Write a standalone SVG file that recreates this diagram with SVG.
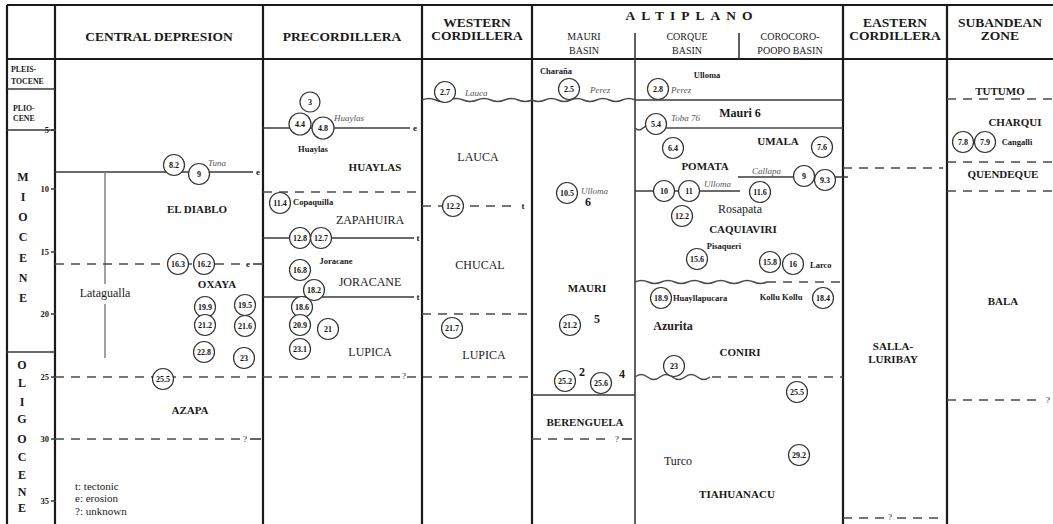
<svg xmlns="http://www.w3.org/2000/svg" width="1053" height="524" viewBox="0 0 1053 524">
<style>
.b{stroke:#1a1a1a;stroke-width:2.2;fill:none}
.l{stroke:#3a3a3a;stroke-width:1.6;fill:none}
.g{stroke:#8a8a8a;stroke-width:1.6;fill:none}
.d{stroke:#4a4a4a;stroke-width:1.6;stroke-dasharray:9 7;fill:none}
.w{stroke:#4a4a4a;stroke-width:1.5;fill:none}
.c circle{fill:#fff;stroke:#333;stroke-width:1.2}
text{font-family:"Liberation Serif","DejaVu Serif","Times New Roman",Times,serif;fill:#1a1a1a}
.c text{font-weight:bold;font-size:8px;text-anchor:middle;fill:#111}
.h{font-weight:bold;font-size:13.5px;text-anchor:middle}
.sh{font-size:10px;text-anchor:middle}
.ep{font-weight:bold;font-size:7.8px}
.el{font-weight:bold;font-size:12px;text-anchor:middle}
.tk{font-weight:bold;font-size:8.5px;text-anchor:end}
.u{font-weight:bold;font-size:11px;text-anchor:middle}
.r{font-size:12px;text-anchor:middle}
.i{font-style:italic;font-size:9px;fill:#555}
.s{font-weight:bold;font-size:8.5px}
.m{font-weight:bold;font-size:9px;text-anchor:middle}
.q{font-size:9px;text-anchor:middle}
.lg{font-size:11px}
</style>

<g id="frame">
<path class="b" d="M7 5H1053M7 59H1053M7 5V524M55 5V524M263 5V524M422 5V524M532 5V524M843 5V524M947 5V524"/>
<path class="l" d="M635 33V524M739 33V59M7 89H55M7 130H55M7 352H55"/>
</g>

<g id="headers">
<text class="h" x="159" y="41">CENTRAL DEPRESION</text>
<text class="h" x="342" y="41">PRECORDILLERA</text>
<text class="h" x="477" y="27">WESTERN</text>
<text class="h" x="477" y="40">CORDILLERA</text>
<text class="h" x="692" y="20" letter-spacing="6">ALTIPLANO</text>
<text class="sh" x="584" y="40">MAURI</text>
<text class="sh" x="584" y="54">BASIN</text>
<text class="sh" x="687" y="40">CORQUE</text>
<text class="sh" x="687" y="54">BASIN</text>
<text class="sh" x="790" y="40">COROCORO-</text>
<text class="sh" x="790" y="54">POOPO BASIN</text>
<text class="h" x="895" y="27">EASTERN</text>
<text class="h" x="895" y="40">CORDILLERA</text>
<text class="h" x="1000" y="27">SUBANDEAN</text>
<text class="h" x="1000" y="40">ZONE</text>
</g>

<g id="timescale">
<text class="ep" x="11" y="72">PLEIS-</text>
<text class="ep" x="11" y="84">TOCENE</text>
<text class="ep" x="13" y="111">PLIO-</text>
<text class="ep" x="13" y="121">CENE</text>
<g class="el">
<text x="23" y="181">M</text><text x="23" y="201">I</text><text x="23" y="221">O</text><text x="23" y="241">C</text><text x="23" y="262">E</text><text x="23" y="282">N</text><text x="23" y="302">E</text>
<text x="22" y="369">O</text><text x="22" y="387">L</text><text x="22" y="406">I</text><text x="22" y="423">G</text><text x="22" y="443">O</text><text x="22" y="461">C</text><text x="22" y="479">E</text><text x="22" y="496">N</text><text x="22" y="512">E</text>
</g>
<text class="tk" x="49" y="133">5</text>
<text class="tk" x="49" y="192">10</text>
<text class="tk" x="49" y="255">15</text>
<text class="tk" x="49" y="317">20</text>
<text class="tk" x="49" y="380">25</text>
<text class="tk" x="49" y="442">30</text>
<text class="tk" x="49" y="504">35</text>
<path class="l" d="M51 130H56M51 189H56M51 252H56M51 314H56M51 377H56M51 439H56M51 501H56"/>
</g>

<g id="connectors">
<path class="l" d="M55 172H253"/>
<path class="g" d="M105 172V284M105 304V358"/>
<path class="d" d="M55 264H242"/><path class="l" d="M253 264H263"/>
<path class="d" d="M55 377H532"/>
<path class="d" d="M55 439H240"/><path class="l" d="M250 439H261"/>
<path class="l" d="M263 128H410"/>
<path class="d" d="M263 192H422"/>
<path class="l" d="M263 238H414"/>
<path class="l" d="M263 297H414"/>
<path class="w" d="M422 100q6.9 -3 13.75 0t13.75 0t13.75 0t13.75 0t13.75 0t13.75 0t13.75 0t13.75 0"/>
<path class="d" d="M422 206H518"/>
<path class="d" d="M422 314H532"/>
<path class="w" d="M532 100q6.4 3 12.9 0t12.9 0t12.9 0t12.9 0t12.9 0t12.9 0t12.9 0t12.9 0"/>
<path class="l" d="M532 395H635"/>
<path class="d" d="M532 439H612"/><path class="l" d="M622 439H632"/>
<path class="l" d="M635 100H843"/>
<path class="w" d="M635 128q4 4 8 0t8 0H843"/>
<path class="l" d="M738 177H848"/>
<path class="l" d="M635 191H740"/>
<path class="w" d="M635 282q6.6 -3 13.2 0t13.2 0t13.2 0t13.2 0t13.2 0t13.2 0t13.2 0t13.2 0t13.2 0t13.2 0"/>
<path class="d" d="M767 282H843"/>
<path class="w" d="M635 377q6.25 -5 12.5 0t12.5 0t12.5 0t12.5 0t12.5 0t12.5 0"/>
<path class="d" d="M712 377H843"/>
<path class="d" d="M843 168H943"/>
<path class="d" d="M843 518H884"/><path class="d" d="M897 518H945"/>
<path class="d" d="M947 99H1053"/>
<path class="d" d="M947 162H1053"/>
<path class="d" d="M947 191H1053"/>
<path class="d" d="M947 400H1043"/>
</g>

<g id="markers">
<text class="m" x="258" y="175">e</text>
<text class="m" x="248" y="267">e</text>
<text class="q" x="245" y="442">?</text>
<text class="m" x="415" y="131">e</text>
<text class="m" x="418" y="241">t</text>
<text class="m" x="418" y="300">t</text>
<text class="q" x="404" y="379">?</text>
<text class="m" x="523" y="209">t</text>
<text class="q" x="617" y="442">?</text>
<text class="q" x="890" y="520">?</text>
<text class="q" x="1048" y="403">?</text>
</g>

<g id="labels">
<text class="i" x="208" y="166">Tuna</text>
<text class="u" x="197" y="213">EL DIABLO</text>
<text class="u" x="217" y="288">OXAYA</text>
<text class="r" x="105" y="297">Lataguall&#97;</text>
<text class="u" x="190" y="414">AZAPA</text>
<text class="lg" x="75" y="490">t: tectonic</text>
<text class="lg" x="75" y="502">e: erosion</text>
<text class="lg" x="75" y="515">?: unknown</text>

<text class="i" x="334" y="121">Huaylas</text>
<text class="s" x="313" y="152" text-anchor="middle">Huaylas</text>
<text class="u" x="375" y="171">HUAYLAS</text>
<text class="s" x="293" y="205">Copaquilla</text>
<text class="r" x="370" y="224">ZAPAHUIRA</text>
<text class="s" x="336" y="264" text-anchor="middle" font-weight="normal">Joracane</text>
<text class="r" x="370" y="286">JORACANE</text>
<text class="r" x="370" y="356">LUPICA</text>

<text class="i" x="465" y="96">Lauca</text>
<text class="r" x="478" y="161">LAUCA</text>
<text class="r" x="480" y="269">CHUCAL</text>
<text class="r" x="484" y="359">LUPICA</text>

<text class="s" x="556" y="74" text-anchor="middle">Charaña</text>
<text class="i" x="590" y="93">Perez</text>
<text class="i" x="581" y="194">Ulloma</text>
<text x="588" y="206" font-weight="bold" font-size="12" text-anchor="middle">6</text>
<text class="u" x="587" y="292">MAURI</text>
<text x="597" y="323" font-weight="bold" font-size="12" text-anchor="middle">5</text>
<text x="582" y="376" font-weight="bold" font-size="12" text-anchor="middle">2</text>
<text x="622" y="378" font-weight="bold" font-size="12" text-anchor="middle">4</text>
<text class="u" x="585" y="426">BERENGUELA</text>

<text class="s" x="707" y="78" text-anchor="middle">Ulloma</text>
<text class="i" x="671" y="93">Perez</text>
<text x="740" y="117" font-weight="bold" font-size="12" text-anchor="middle">Mauri 6</text>
<text class="i" x="671" y="121">Toba 76</text>
<text class="u" x="778" y="145">UMALA</text>
<text class="u" x="705" y="170">POMATA</text>
<text class="i" x="752" y="174">Callapa</text>
<text class="i" x="704" y="187">Ulloma</text>
<text class="r" x="740" y="213">Rosapata</text>
<text class="u" x="743" y="233">CAQUIAVIRI</text>
<text class="s" x="724" y="249" text-anchor="middle" font-weight="normal">Pisaqueri</text>
<text class="s" x="810" y="268">Larco</text>
<text class="s" x="673" y="301">Huayllapucara</text>
<text class="s" x="781" y="300" text-anchor="middle">Kollu Kollu</text>
<text x="673" y="330" font-weight="bold" font-size="12" text-anchor="middle">Azurita</text>
<text class="u" x="740" y="356">CONIRI</text>
<text class="r" x="678" y="465">Turco</text>
<text class="u" x="737" y="498">TIAHUANACU</text>

<text class="u" x="893" y="350">SALLA-</text>
<text class="u" x="893" y="363">LURIBAY</text>

<text class="u" x="1000" y="95">TUTUMO</text>
<text class="u" x="1015" y="126">CHARQUI</text>
<text class="s" x="1017" y="145" text-anchor="middle" font-weight="normal">Cangalli</text>
<text class="u" x="1003" y="178">QUENDEQUE</text>
<text class="u" x="1003" y="305">BALA</text>
</g>

<g id="ages" class="c">
<g id="a8-2"><circle cx="174" cy="165" r="10.5"/><text x="174" y="168">8.2</text></g>
<g id="a9-cd"><circle cx="199" cy="174" r="10.5"/><text x="199" y="177">9</text></g>
<g id="a16-3"><circle cx="178" cy="264" r="10.5"/><text x="178" y="267">16.3</text></g>
<g id="a16-2"><circle cx="204" cy="264" r="10.5"/><text x="204" y="267">16.2</text></g>
<g id="a19-9"><circle cx="205" cy="307" r="10.5"/><text x="205" y="310">19.9</text></g>
<g id="a19-5"><circle cx="245" cy="305" r="10.5"/><text x="245" y="308">19.5</text></g>
<g id="a21-2cd"><circle cx="205" cy="325" r="10.5"/><text x="205" y="328">21.2</text></g>
<g id="a21-6"><circle cx="245" cy="326" r="10.5"/><text x="245" y="329">21.6</text></g>
<g id="a22-8"><circle cx="204" cy="352" r="10.5"/><text x="204" y="355">22.8</text></g>
<g id="a23-cd"><circle cx="244" cy="358" r="10.5"/><text x="244" y="361">23</text></g>
<g id="a25-5cd"><circle cx="163" cy="379" r="10.5"/><text x="163" y="382">25.5</text></g>
<g id="a3"><circle cx="310" cy="102" r="10"/><text x="310" y="105">3</text></g>
<g id="a4-4"><circle cx="300" cy="124" r="11"/><text x="300" y="127">4.4</text></g>
<g id="a4-8"><circle cx="323" cy="128" r="11"/><text x="323" y="131">4.8</text></g>
<g id="a11-4"><circle cx="280" cy="203" r="10.5"/><text x="280" y="206">11.4</text></g>
<g id="a12-8"><circle cx="300" cy="238" r="10.5"/><text x="300" y="241">12.8</text></g>
<g id="a12-7"><circle cx="321" cy="238" r="10.5"/><text x="321" y="241">12.7</text></g>
<g id="a16-8"><circle cx="300" cy="270" r="10.5"/><text x="300" y="273">16.8</text></g>
<g id="a18-2"><circle cx="314" cy="290" r="10.5"/><text x="314" y="293">18.2</text></g>
<g id="a18-6"><circle cx="302" cy="307" r="10.5"/><text x="302" y="310">18.6</text></g>
<g id="a20-9"><circle cx="300" cy="325" r="10.5"/><text x="300" y="328">20.9</text></g>
<g id="a21"><circle cx="328" cy="329" r="10.5"/><text x="328" y="332">21</text></g>
<g id="a23-1"><circle cx="300" cy="349" r="10.5"/><text x="300" y="352">23.1</text></g>
<g id="a2-7"><circle cx="445" cy="92" r="10.5"/><text x="445" y="95">2.7</text></g>
<g id="a12-2wc"><circle cx="453" cy="206" r="10.5"/><text x="453" y="209">12.2</text></g>
<g id="a21-7"><circle cx="452" cy="328" r="10.5"/><text x="452" y="331">21.7</text></g>
<g id="a2-5"><circle cx="569" cy="89" r="10.5"/><text x="569" y="92">2.5</text></g>
<g id="a10-5"><circle cx="567" cy="193" r="10.5"/><text x="567" y="196">10.5</text></g>
<g id="a21-2m"><circle cx="570" cy="325" r="10.5"/><text x="570" y="328">21.2</text></g>
<g id="a25-2"><circle cx="565" cy="381" r="10.5"/><text x="565" y="384">25.2</text></g>
<g id="a25-6"><circle cx="601" cy="383" r="10.5"/><text x="601" y="386">25.6</text></g>
<g id="a2-8"><circle cx="658" cy="89" r="10.5"/><text x="658" y="92">2.8</text></g>
<g id="a5-4"><circle cx="656" cy="124" r="10.5"/><text x="656" y="127">5.4</text></g>
<g id="a6-4"><circle cx="673" cy="148" r="10.5"/><text x="673" y="151">6.4</text></g>
<g id="a7-6"><circle cx="822" cy="147" r="10.5"/><text x="822" y="150">7.6</text></g>
<g id="a9-c"><circle cx="804" cy="176" r="10.5"/><text x="804" y="179">9</text></g>
<g id="a9-3"><circle cx="825" cy="180" r="10.5"/><text x="825" y="183">9.3</text></g>
<g id="a10"><circle cx="664" cy="191" r="10.5"/><text x="664" y="194">10</text></g>
<g id="a11"><circle cx="689" cy="191" r="10.5"/><text x="689" y="194">11</text></g>
<g id="a11-6"><circle cx="760" cy="192" r="10.5"/><text x="760" y="195">11.6</text></g>
<g id="a12-2c"><circle cx="682" cy="216" r="10.5"/><text x="682" y="219">12.2</text></g>
<g id="a15-6"><circle cx="697" cy="259" r="10.5"/><text x="697" y="262">15.6</text></g>
<g id="a15-8"><circle cx="770" cy="262" r="10.5"/><text x="770" y="265">15.8</text></g>
<g id="a16"><circle cx="793" cy="264" r="10.5"/><text x="793" y="267">16</text></g>
<g id="a18-9"><circle cx="661" cy="298" r="10.5"/><text x="661" y="301">18.9</text></g>
<g id="a18-4"><circle cx="823" cy="298" r="10.5"/><text x="823" y="301">18.4</text></g>
<g id="a23-c"><circle cx="674" cy="366" r="10.5"/><text x="674" y="369">23</text></g>
<g id="a25-5c"><circle cx="797" cy="392" r="10.5"/><text x="797" y="395">25.5</text></g>
<g id="a29-2"><circle cx="799" cy="455" r="10.5"/><text x="799" y="458">29.2</text></g>
<g id="a7-8"><circle cx="963" cy="142" r="10.5"/><text x="963" y="145">7.8</text></g>
<g id="a7-9"><circle cx="985" cy="142" r="10.5"/><text x="985" y="145">7.9</text></g>
</g>
</svg>
